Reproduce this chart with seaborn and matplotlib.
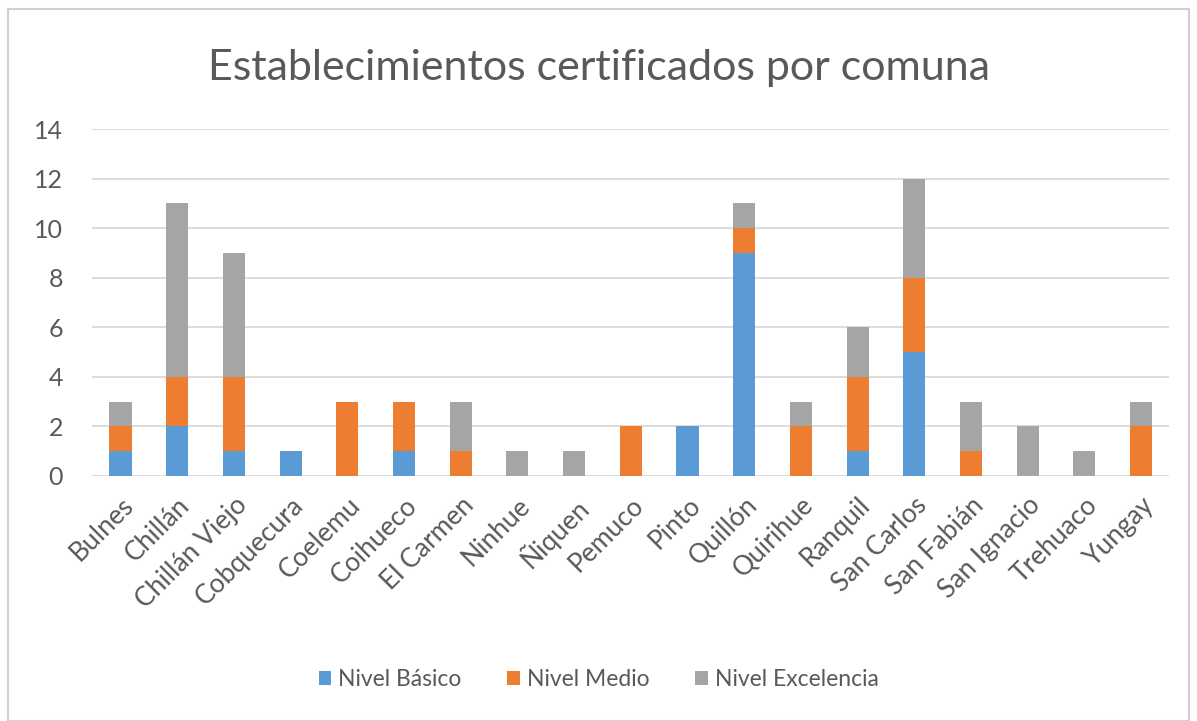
import numpy as np
import pandas as pd
import matplotlib
matplotlib.use("Agg")
import matplotlib.pyplot as plt
import seaborn as sns
from matplotlib.patches import Rectangle, Patch

comunas = ["Bulnes", "Chillán", "Chillán Viejo", "Cobquecura", "Coelemu", "Coihueco",
           "El Carmen", "Ninhue", "Ñiquen", "Pemuco", "Pinto", "Quillón", "Quirihue",
           "Ranquil", "San Carlos", "San Fabián", "San Ignacio", "Trehuaco", "Yungay"]
basico =     [1, 2, 1, 1, 0, 1, 0, 0, 0, 0, 2, 9, 0, 1, 5, 0, 0, 0, 0]
medio =      [1, 2, 3, 0, 3, 2, 1, 0, 0, 2, 0, 1, 2, 3, 3, 1, 0, 0, 2]
excelencia = [1, 7, 5, 0, 0, 0, 2, 1, 1, 0, 0, 1, 1, 2, 4, 2, 2, 1, 1]
series_names = ["Nivel Básico", "Nivel Medio", "Nivel Excelencia"]
colors = ["#5B9BD5", "#ED7D31", "#A5A5A5"]
yticks = [0, 2, 4, 6, 8, 10, 12, 14]

sns.set_theme(style="white")
plt.rcParams['font.family'] = ['Lato', 'DejaVu Sans']
txt = "#595959"

fig = plt.figure(figsize=(11.97, 7.21), dpi=100)
ax = fig.add_axes([0.077, 0.340, 0.900, 0.481])

df = pd.DataFrame({"comuna": comunas, "b": basico, "m": medio, "e": excelencia})
bottoms = [np.zeros(len(comunas)), np.array(basico), np.array(basico) + np.array(medio)]
for col, name, c, bot in zip(["b", "m", "e"], series_names, colors, bottoms):
    sns.barplot(data=df, x="comuna", y=col, color=c, bottom=bot, width=0.39,
                saturation=1, ax=ax, zorder=3, linewidth=0)

ax.set_ylim(0, 14)
ax.set_yticks(yticks)
ax.set_xlim(-0.5, len(comunas) - 0.5)
ax.yaxis.grid(True, color="#D9D9D9", linewidth=1.3, zorder=0)
ax.set_axisbelow(True)
for s in ax.spines.values():
    s.set_visible(False)
ax.set_xlabel("")
ax.set_ylabel("")
ax.tick_params(axis="y", length=0, colors=txt, labelsize=18, pad=21)
ax.tick_params(axis="x", length=0, colors=txt, labelsize=19, pad=12)
ax.set_xticks(range(len(comunas)))
ax.set_xticklabels(comunas, rotation=45, ha="right", rotation_mode="anchor", color=txt)

fig.text(0.5, 0.905, "Establecimientos certificados por comuna", ha="center", va="center",
         fontsize=31, color=txt)

handles = [Patch(facecolor=c, edgecolor="none") for c in colors]
fig.legend(handles, series_names, loc="center", bbox_to_anchor=(0.5, 0.057), ncol=3,
           frameon=False, fontsize=16.5, labelcolor=txt, handlelength=0.55, handleheight=0.55,
           handletextpad=0.3, columnspacing=2.0)

fig.patches.append(Rectangle((0.007, 0.0), 0.986, 0.988, transform=fig.transFigure,
                             fill=False, edgecolor="#D0D0D0", linewidth=1.5))

fig.savefig("out.png", dpi=100)
